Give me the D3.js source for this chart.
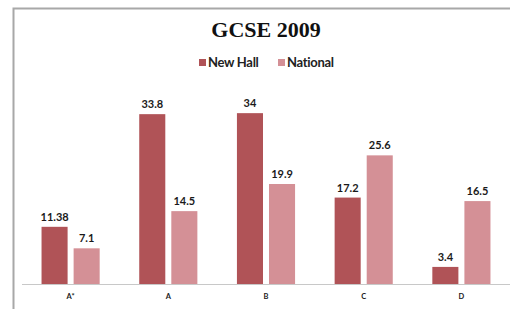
<!DOCTYPE html>
<html><head><meta charset="utf-8">
<script src="https://cdn.jsdelivr.net/npm/d3@7"></script>
<style>html,body{margin:0;padding:0;background:#fff;}svg{display:block;}</style>
</head><body>
<svg id="c" width="510" height="309"></svg>
<script>
const categories = ["A*", "A", "B", "C", "D"];
const seriesNames = ["New Hall", "National"];
const newHall = [11.38, 33.8, 34, 17.2, 3.4];
const national = [7.1, 14.5, 19.9, 25.6, 16.5];
const valueLabels = {"New Hall": ["11.38","33.8","34","17.2","3.4"], "National": ["7.1","14.5","19.9","25.6","16.5"]};
const colors = {"New Hall": "#b05357", "National": "#d49096"};

const svg = d3.select("#c");
svg.append("rect").attr("x",0).attr("y",0).attr("width",510).attr("height",309).attr("fill","#fff");
// frame
svg.append("path").attr("d","M13.5,309 V8.5 H510").attr("fill","none").attr("stroke","#a8a8a8").attr("stroke-width",2);

const x0 = d3.scaleBand().domain(categories).range([22, 510]).paddingInner(0.405).paddingOuter(0.2);
const x1 = d3.scaleBand().domain(seriesNames).range([0, x0.bandwidth()]).paddingInner(0.1875).paddingOuter(0);
const y = d3.scaleLinear().domain([0, 40]).range([284, 83]);

const data = categories.map((c,i)=>({cat:c, vals:[{s:"New Hall", v:newHall[i], l:valueLabels["New Hall"][i]},{s:"National", v:national[i], l:valueLabels["National"][i]}]}));

const g = svg.append("g").selectAll("g").data(data).join("g").attr("transform", d=>`translate(${x0(d.cat)},0)`);
g.selectAll("rect").data(d=>d.vals).join("rect")
  .attr("x", d=>x1(d.s)).attr("width", x1.bandwidth())
  .attr("y", d=>y(d.v)).attr("height", d=>y(0)-y(d.v))
  .attr("fill", d=>colors[d.s]);
g.selectAll("text").data(d=>d.vals).join("text")
  .attr("x", d=>x1(d.s)+x1.bandwidth()/2).attr("y", d=>y(d.v)-6)
  .attr("text-anchor","middle").attr("font-family","Lato, 'Open Sans', sans-serif")
  .attr("font-weight","bold").attr("font-size","11px").attr("fill","#1a1a1a")
  .text(d=>d.l);

// x axis
const xAxis = svg.append("g").attr("transform","translate(0,284)").call(d3.axisBottom(x0).tickSize(0).tickPadding(10));
xAxis.select(".domain").attr("stroke","#c8c8c8").attr("d","M22,0.5H510");
xAxis.selectAll("text").attr("font-family","Lato, sans-serif").attr("font-weight","bold").attr("font-size","7.5px").attr("fill","#1a1a1a");

// title
svg.append("text").attr("x",266).attr("y",37).attr("text-anchor","middle")
  .attr("font-family","'Liberation Serif', 'Times New Roman', serif").attr("font-weight","bold")
  .attr("font-size","22px").attr("fill","#111").text("GCSE 2009");

// legend
const legendX = [199, 278];
const lg = svg.append("g").selectAll("g").data(seriesNames).join("g").attr("transform",(d,i)=>`translate(${legendX[i]},0)`);
lg.append("rect").attr("x",0).attr("y",59).attr("width",7).attr("height",7).attr("fill",d=>colors[d]);
lg.append("text").attr("x",9).attr("y",67).attr("font-family","Lato, 'Open Sans', sans-serif")
  .attr("font-weight","bold").attr("font-size","13px").attr("letter-spacing","-0.3px").attr("fill","#222").text(d=>d);
</script>
</body></html>
